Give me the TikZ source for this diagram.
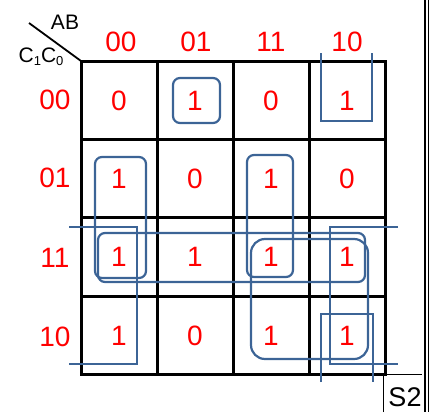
\documentclass[tikz,border=0pt]{standalone}
\usepackage{fontspec}
\setmainfont{Liberation Sans}
\definecolor{loopblue}{RGB}{60,100,150}
\begin{document}
\begin{tikzpicture}[x=1pt,y=-1pt,
  gridline/.style={line width=3pt},
  val/.style={text=red, font=\fontsize{28}{28}\selectfont, inner sep=0pt},
  lab/.style={text=red, font=\fontsize{28}{28}\selectfont, inner sep=0pt},
  hdr/.style={text=black, font=\fontsize{21}{21}\selectfont, inner sep=0pt},
  loop/.style={draw=loopblue, line width=2.2pt, rounded corners=7pt},
  bigloop/.style={draw=loopblue, line width=2.2pt, rounded corners=14pt},
  bracket/.style={draw=loopblue, line width=2.2pt}]
\useasboundingbox (0,0) rectangle (430,412);
% grid
\draw[gridline] (81,61) rectangle (385,374);
\foreach \x in {157,233,309} \draw[gridline] (\x,61) -- (\x,374);
\foreach \y in {139,217,296} \draw[gridline] (81,\y) -- (385,\y);
% corner header
\coordinate (corner) at (81,61);
\coordinate (diagend) at (29,23);
\draw[line width=1.8pt] (diagend) -- (corner);
\node[hdr] (AB) at (65,22) {AB};
\node[hdr] (CC) at (41,57) {C\raisebox{-0.25ex}{\fontsize{13}{13}\selectfont 1}C\raisebox{-0.25ex}{\fontsize{13}{13}\selectfont 0}};
% column labels
\node[lab] (col00) at (121,42) {00};
\node[lab] (col01) at (196,42) {01};
\node[lab] (col11) at (271,42) {11};
\node[lab] (col10) at (347,42) {10};
% row labels
\node[lab] (row00) at (55,100) {00};
\node[lab] (row01) at (55,178) {01};
\node[lab] (row11) at (55,258) {11};
\node[lab] (row10) at (55,337) {10};
% loops
\draw[loop] (173,78) rectangle (220,123);
\draw[bracket] (321,53) -- (321,121) -- (372,121) -- (372,53);
\draw[bracket] (321,382) -- (321,314) -- (373,314) -- (373,382);
\draw[loop] (95,157) rectangle (146,278);
\draw[loop] (247,155) rectangle (293,277);
\draw[loop] (98,233) rectangle (365,282);
\draw[bigloop] (251,239) rectangle (368,359);
\draw[bracket] (69,227) -- (137,227) -- (137,364) -- (69,364);
\draw[bracket] (398,227) -- (330,227) -- (330,364) -- (398,364);
% values
\node[val] (v00a) at (119,101) {0};
\node[val] (v00b) at (195,101) {1};
\node[val] (v00c) at (271,101) {0};
\node[val] (v00d) at (347,101) {1};
\node[val] (v01a) at (119,179) {1};
\node[val] (v01b) at (195,179) {0};
\node[val] (v01c) at (271,179) {1};
\node[val] (v01d) at (347,179) {0};
\node[val] (v11a) at (119,257) {1};
\node[val] (v11b) at (195,257) {1};
\node[val] (v11c) at (271,257) {1};
\node[val] (v11d) at (347,257) {1};
\node[val] (v10a) at (119,336) {1};
\node[val] (v10b) at (195,336) {0};
\node[val] (v10c) at (271,336) {1};
\node[val] (v10d) at (347,336) {1};
% right double border
\draw[line width=2pt] (425,0) -- (425,412);
\draw[line width=1pt] (428.5,0) -- (428.5,412);
% S2 box
\coordinate (s2a) at (383,412);
\coordinate (s2b) at (383,374.5);
\coordinate (s2c) at (422,374.5);
\draw[line width=0.8pt] (s2a) -- (s2b) -- (s2c);
\node[text=black, font=\fontsize{27}{27}\selectfont, inner sep=0pt] (S2) at (405,397) {S2};
\end{tikzpicture}
\end{document}
